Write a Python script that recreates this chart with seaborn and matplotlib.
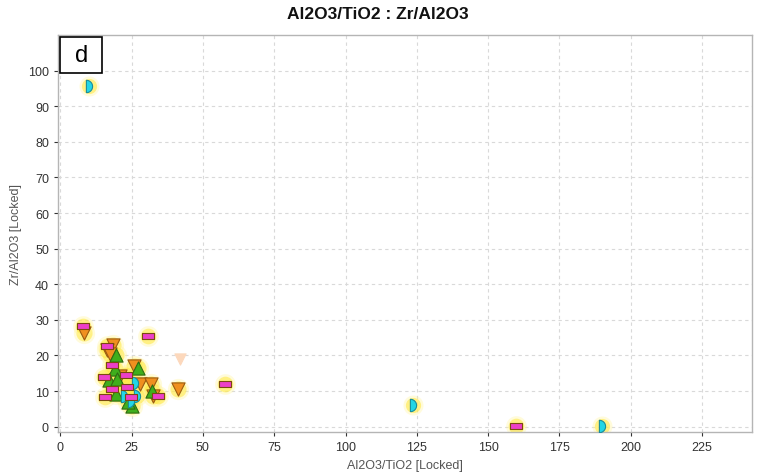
import numpy as np
import pandas as pd
import seaborn as sns
from matplotlib import pyplot as plt
from matplotlib.patches import Rectangle

# values (x = Al2O3/TiO2, y = Zr/Al2O3)
pink_x = [8.1, 30.8, 57.9, 16.5, 18.1, 15.5, 23.0, 18.1, 23.3, 34.3, 15.8, 24.7, 159.7]
pink_y = [28.2, 25.6, 11.9, 22.6, 17.2, 14.0, 14.4, 10.6, 11.0, 8.6, 8.4, 8.4, 0.3]

orange_x = [8.4, 41.3, 18.4, 16.5, 25.9, 27.9, 31.7, 32.6, 20.9, 17.5]
orange_y = [26.3, 10.6, 23.0, 21.6, 17.0, 11.9, 11.9, 8.6, 14.3, 20.5]

faded_x = [41.9]
faded_y = [19.0]

green_x = [19.5, 19.2, 27.3, 17.2, 19.8, 32.0, 19.5, 25.0, 23.8]
green_y = [20.0, 16.1, 16.5, 13.2, 13.5, 10.0, 9.1, 5.7, 6.8]

cyan_x = [10.2, 26.2, 22.3, 27.0, 24.8, 123.5, 189.9]
cyan_y = [95.7, 12.2, 8.6, 8.6, 7.2, 6.2, 0.3]

xticks = [0, 25, 50, 75, 100, 125, 150, 175, 200, 225]
yticks = [0, 10, 20, 30, 40, 50, 60, 70, 80, 90, 100]

# custom marker shapes
rect_marker = [(-1, -0.42), (1, -0.42), (1, 0.42), (-1, 0.42), (-1, -0.42)]
ang = np.linspace(-np.pi / 2, np.pi / 2, 20)
half_circle = [(-0.5, -1)] + [(-0.5 + np.cos(a), np.sin(a)) for a in ang] + [(-0.5, 1), (-0.5, -1)]

groups = [
    # x, y, marker, size, face, edge, glow
    (orange_x, orange_y, "v", 90, "#f0901f", "#9a5a10", True),
    (faded_x, faded_y, "v", 65, "#fcd8bc", "#fcd8bc", False),
    (green_x, green_y, "^", 90, "#3fae1c", "#2f6a12", True),
    (cyan_x, cyan_y, half_circle, 80, "#22d6e6", "#1a8c9a", True),
    (pink_x, pink_y, rect_marker, 85, "#ec3fc8", "#7a4a10", True),
]

sns.set_style("white")
plt.rcParams["font.family"] = ["Liberation Sans", "DejaVu Sans"]

fig = plt.figure(figsize=(7.6, 4.77), dpi=100)
ax = fig.add_axes([58 / 760, 1 - 433 / 477, 694 / 760, 397 / 477])

# yellow glow underneath the markers
for gx, gy, m, s, fc, ec, glow in groups:
    if not glow:
        continue
    df = pd.DataFrame({"x": gx, "y": gy})
    sns.scatterplot(data=df, x="x", y="y", ax=ax, marker="o", s=s * 2.6,
                    color="#fff599", alpha=0.35, linewidth=0, zorder=2, legend=False)
    sns.scatterplot(data=df, x="x", y="y", ax=ax, marker="o", s=s * 1.5,
                    color="#ffe83c", alpha=0.55, linewidth=0, zorder=2, legend=False)

for gx, gy, m, s, fc, ec, glow in groups:
    df = pd.DataFrame({"x": gx, "y": gy})
    sns.scatterplot(data=df, x="x", y="y", ax=ax, marker=m, s=s, color=fc,
                    edgecolor=ec, linewidth=0.8, zorder=3, legend=False)

ax.set_xlim(-0.8, 242.5)
ax.set_ylim(-1.5, 110)
ax.set_xticks(xticks)
ax.set_yticks(yticks)
ax.tick_params(axis="both", labelsize=9, colors="#333333", length=3,
               width=0.8, direction="out", bottom=True, left=True)
ax.grid(True, color="#d9d9d9", linestyle=(0, (3, 3)), linewidth=0.8)
ax.set_axisbelow(True)
for side, sp in ax.spines.items():
    sp.set_color("#b5b5b5")
    sp.set_linewidth(1.0)

ax.set_xlabel("Al2O3/TiO2 [Locked]", fontsize=9, color="#555555", labelpad=4)
ax.set_ylabel("Zr/Al2O3 [Locked]", fontsize=9, color="#555555")
ax.yaxis.set_label_coords(-36 / 694, 0.5)

fig.suptitle("Al2O3/TiO2 : Zr/Al2O3", x=0.497, y=0.985, fontsize=12.5,
             fontweight="bold", color="#111111")

# panel letter box
ax.add_patch(Rectangle((2.4 / 694, 1 - 37.6 / 397), 42 / 694, 36 / 397,
                       transform=ax.transAxes, facecolor="white",
                       edgecolor="black", linewidth=1.2, zorder=5, clip_on=False))
ax.text((2.4 + 21) / 694, 1 - 19.6 / 397, "d", transform=ax.transAxes,
        fontsize=17, ha="center", va="center", color="black", zorder=6)

fig.savefig("out.png", dpi=100)
